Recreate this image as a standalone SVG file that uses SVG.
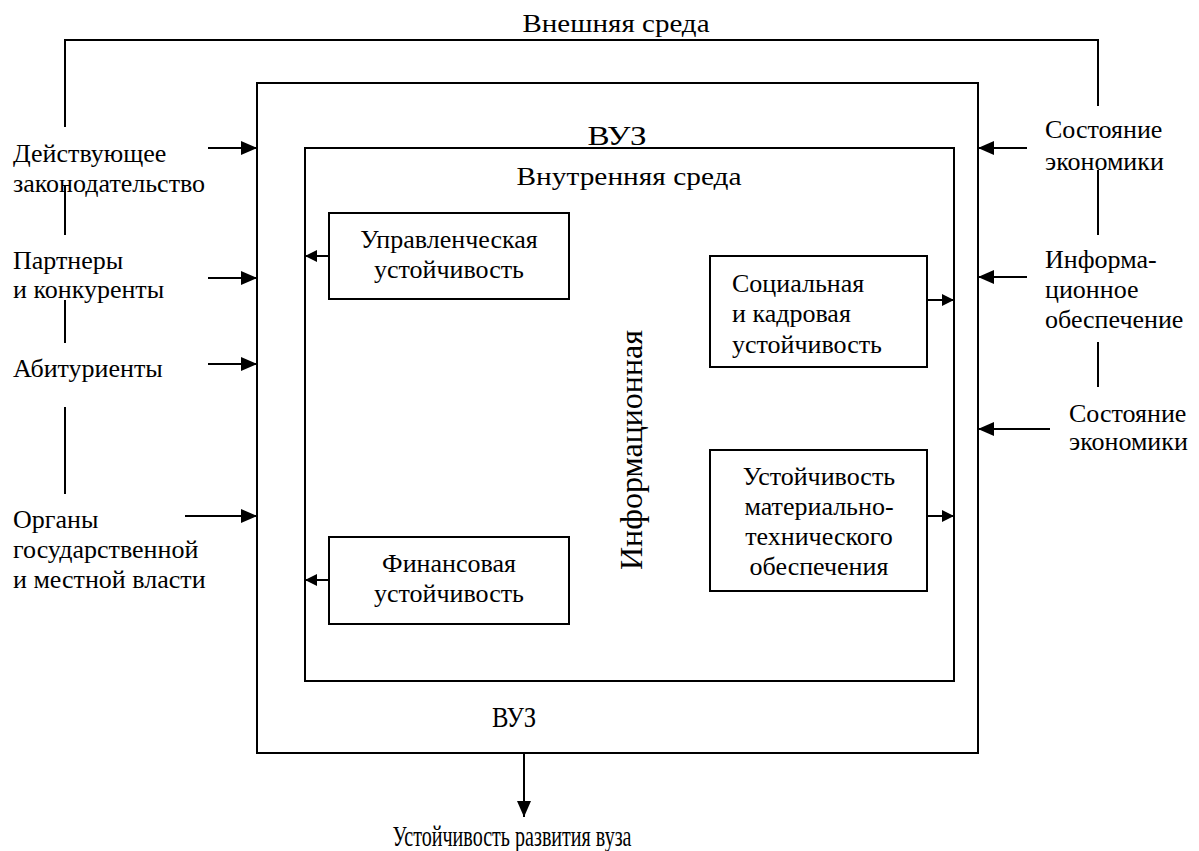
<svg xmlns="http://www.w3.org/2000/svg" width="1199" height="851" viewBox="0 0 1199 851" xml:lang="ru" font-family="Liberation Serif, FreeSerif, Tinos, serif">
  <defs>
    <marker id="arrow" markerUnits="userSpaceOnUse" markerWidth="16" markerHeight="14" refX="16" refY="7" orient="auto">
      <path d="M0,0 L16,7 L0,14 Z" fill="#000"/>
    </marker>
    <marker id="arrowSmall" markerUnits="userSpaceOnUse" markerWidth="12" markerHeight="12" refX="12" refY="6" orient="auto">
      <path d="M0,0 L12,6 L0,12 Z" fill="#000"/>
    </marker>
  </defs>

  <rect width="1199" height="851" fill="#fff"/>

  <!-- external environment bracket -->
  <g id="external-env">
    <path d="M65,127 V40 H1098 V106" fill="none" stroke="#000" stroke-width="2"/>
    <text font-family="Liberation Serif, FreeSerif, Tinos, serif" font-size="26" text-anchor="middle" x="616" y="32" textLength="187" lengthAdjust="spacingAndGlyphs">Внешняя среда</text>
  </g>

  <!-- dividers between external factors -->
  <g id="dividers" stroke="#000" stroke-width="2">
    <line x1="65" y1="186" x2="65" y2="235"/>
    <line x1="65" y1="300" x2="65" y2="343"/>
    <line x1="65" y1="407" x2="65" y2="494"/>
    <line x1="1098" y1="170" x2="1098" y2="235"/>
    <line x1="1098" y1="342" x2="1098" y2="387"/>
  </g>

  <!-- university frame -->
  <g id="vuz">
    <rect x="257" y="83" width="721" height="670" fill="none" stroke="#000" stroke-width="2"/>
    <text font-family="Liberation Serif, FreeSerif, Tinos, serif" font-size="28" text-anchor="middle" x="617" y="145" textLength="59" lengthAdjust="spacingAndGlyphs">ВУЗ</text>
    <text font-family="Liberation Serif, FreeSerif, Tinos, serif" font-size="30" text-anchor="middle" x="514" y="727" textLength="44" lengthAdjust="spacingAndGlyphs">ВУЗ</text>
  </g>

  <!-- internal environment frame -->
  <g id="internal-env">
    <rect x="305" y="148" width="649" height="533" fill="none" stroke="#000" stroke-width="2"/>
    <text font-family="Liberation Serif, FreeSerif, Tinos, serif" font-size="26" text-anchor="middle" x="629" y="185" textLength="225" lengthAdjust="spacingAndGlyphs">Внутренняя среда</text>
    <text font-family="Liberation Serif, FreeSerif, Tinos, serif" font-size="32" text-anchor="middle" transform="translate(642,450) rotate(-90)" textLength="240" lengthAdjust="spacingAndGlyphs">Информационная</text>
  </g>

  <!-- external factors (left) -->
  <g id="law">
    <text font-family="Liberation Serif, FreeSerif, Tinos, serif" font-size="26" x="13" y="162">Действующее</text>
    <text font-family="Liberation Serif, FreeSerif, Tinos, serif" font-size="26" x="13" y="192">законодательство</text>
  </g>
  <g id="partners">
    <text font-family="Liberation Serif, FreeSerif, Tinos, serif" font-size="26" x="13" y="269">Партнеры</text>
    <text font-family="Liberation Serif, FreeSerif, Tinos, serif" font-size="26" x="13" y="298">и конкуренты</text>
  </g>
  <g id="applicants">
    <text font-family="Liberation Serif, FreeSerif, Tinos, serif" font-size="26" x="13" y="377">Абитуриенты</text>
  </g>
  <g id="authorities">
    <text font-family="Liberation Serif, FreeSerif, Tinos, serif" font-size="26" x="13" y="528">Органы</text>
    <text font-family="Liberation Serif, FreeSerif, Tinos, serif" font-size="26" x="13" y="558">государственной</text>
    <text font-family="Liberation Serif, FreeSerif, Tinos, serif" font-size="26" x="13" y="588">и местной власти</text>
  </g>

  <!-- external factors (right) -->
  <g id="economy-1">
    <text font-family="Liberation Serif, FreeSerif, Tinos, serif" font-size="26" x="1045" y="138">Состояние</text>
    <text font-family="Liberation Serif, FreeSerif, Tinos, serif" font-size="26" x="1045" y="170">экономики</text>
  </g>
  <g id="information-support">
    <text font-family="Liberation Serif, FreeSerif, Tinos, serif" font-size="26" x="1045" y="268">Информа-</text>
    <text font-family="Liberation Serif, FreeSerif, Tinos, serif" font-size="26" x="1045" y="298">ционное</text>
    <text font-family="Liberation Serif, FreeSerif, Tinos, serif" font-size="26" x="1045" y="328">обеспечение</text>
  </g>
  <g id="economy-2">
    <text font-family="Liberation Serif, FreeSerif, Tinos, serif" font-size="26" x="1069" y="422">Состояние</text>
    <text font-family="Liberation Serif, FreeSerif, Tinos, serif" font-size="26" x="1069" y="450">экономики</text>
  </g>

  <!-- internal components -->
  <g id="management">
    <rect x="329" y="213" width="240" height="86" fill="#fff" stroke="#000" stroke-width="2"/>
    <text font-family="Liberation Serif, FreeSerif, Tinos, serif" font-size="26" text-anchor="middle" x="449" y="248">Управленческая</text>
    <text font-family="Liberation Serif, FreeSerif, Tinos, serif" font-size="26" text-anchor="middle" x="449" y="278">устойчивость</text>
  </g>
  <g id="finance">
    <rect x="329" y="537" width="240" height="87" fill="#fff" stroke="#000" stroke-width="2"/>
    <text font-family="Liberation Serif, FreeSerif, Tinos, serif" font-size="26" text-anchor="middle" x="449" y="572">Финансовая</text>
    <text font-family="Liberation Serif, FreeSerif, Tinos, serif" font-size="26" text-anchor="middle" x="449" y="602">устойчивость</text>
  </g>
  <g id="social">
    <rect x="710" y="256" width="217" height="111" fill="#fff" stroke="#000" stroke-width="2"/>
    <text font-family="Liberation Serif, FreeSerif, Tinos, serif" font-size="26" x="732" y="292">Социальная</text>
    <text font-family="Liberation Serif, FreeSerif, Tinos, serif" font-size="26" x="732" y="322">и кадровая</text>
    <text font-family="Liberation Serif, FreeSerif, Tinos, serif" font-size="26" x="732" y="353">устойчивость</text>
  </g>
  <g id="material">
    <rect x="710" y="450" width="217" height="141" fill="#fff" stroke="#000" stroke-width="2"/>
    <text font-family="Liberation Serif, FreeSerif, Tinos, serif" font-size="26" text-anchor="middle" x="819" y="485">Устойчивость</text>
    <text font-family="Liberation Serif, FreeSerif, Tinos, serif" font-size="26" text-anchor="middle" x="819" y="515">материально-</text>
    <text font-family="Liberation Serif, FreeSerif, Tinos, serif" font-size="26" text-anchor="middle" x="819" y="545">технического</text>
    <text font-family="Liberation Serif, FreeSerif, Tinos, serif" font-size="26" text-anchor="middle" x="819" y="575">обеспечения</text>
  </g>

  <!-- outcome -->
  <g id="outcome">
    <text font-family="Liberation Serif, FreeSerif, Tinos, serif" font-size="30" text-anchor="middle" x="512" y="846" textLength="239" lengthAdjust="spacingAndGlyphs">Устойчивость развития вуза</text>
  </g>

  <!-- connectors -->
  <g id="connectors" stroke="#000" stroke-width="2">
    <line x1="208" y1="148" x2="257" y2="148" marker-end="url(#arrow)"/>
    <line x1="208" y1="278" x2="257" y2="278" marker-end="url(#arrow)"/>
    <line x1="208" y1="364" x2="257" y2="364" marker-end="url(#arrow)"/>
    <line x1="185" y1="516" x2="257" y2="516" marker-end="url(#arrow)"/>
    <line x1="1027" y1="148" x2="978" y2="148" marker-end="url(#arrow)"/>
    <line x1="1027" y1="277" x2="978" y2="277" marker-end="url(#arrow)"/>
    <line x1="1050" y1="429" x2="978" y2="429" marker-end="url(#arrow)"/>
    <line x1="329" y1="256" x2="305" y2="256" marker-end="url(#arrowSmall)"/>
    <line x1="329" y1="580" x2="305" y2="580" marker-end="url(#arrowSmall)"/>
    <line x1="927" y1="300" x2="954" y2="300" marker-end="url(#arrowSmall)"/>
    <line x1="927" y1="516" x2="954" y2="516" marker-end="url(#arrowSmall)"/>
    <line x1="524" y1="753" x2="524" y2="817" marker-end="url(#arrow)"/>
  </g>
</svg>
